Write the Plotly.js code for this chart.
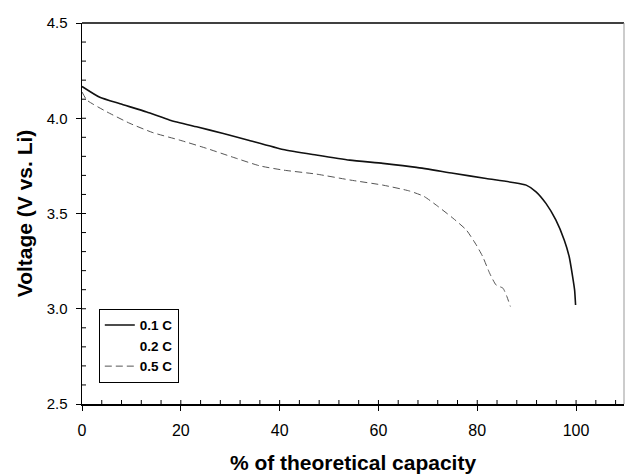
<!DOCTYPE html>
<html>
<head>
<meta charset="utf-8">
<script src="https://cdn.plot.ly/plotly-3.0.1.min.js"></script>
<style>html,body{margin:0;padding:0;background:#fff;}#chart{width:625px;height:475px;}</style>
</head>
<body>
<div id="chart"></div>
<script>
// 0.1 C discharge curve
const cap01 = [0, 3.6, 7.7, 13.1, 17.8, 23.2, 28.6, 33.5, 40.7, 47.4, 54.2, 60.9, 67.7, 75.1, 81.8, 87.2, 89.9, 91.9, 93.9, 95.9, 97.6, 98.6, 99.3, 99.7, 99.9];
const volt01 = [4.167, 4.11, 4.076, 4.033, 3.99, 3.955, 3.92, 3.886, 3.836, 3.807, 3.78, 3.763, 3.742, 3.711, 3.684, 3.663, 3.649, 3.614, 3.553, 3.466, 3.361, 3.274, 3.169, 3.099, 3.02];
// 0.2 C (no visible curve in the reference)
const cap02 = [null];
const volt02 = [null];
// 0.5 C discharge curve
const cap05 = [0, 1, 5, 9.7, 14.4, 19.8, 25.2, 30.6, 36, 40.7, 47.4, 54.2, 60.9, 66.3, 69.2, 71.7, 75.1, 77.8, 79.8, 81.1, 82.5, 83.8, 85.2, 86, 86.7];
const volt05 = [4.138, 4.095, 4.034, 3.973, 3.924, 3.885, 3.842, 3.795, 3.75, 3.728, 3.707, 3.676, 3.649, 3.618, 3.59, 3.544, 3.475, 3.413, 3.335, 3.274, 3.187, 3.125, 3.108, 3.064, 3.012];
const seriesNames = ['0.1 C', '0.2 C', '0.5 C'];

const xRange = [0, 109.7];
const yRange = [2.5, 4.5];
const xMinorStep = 4;
const yMinorStep = 0.1;

const traces = [
  {x: cap01, y: volt01, name: seriesNames[0], mode: 'lines', line: {color: '#111', width: 1.6, shape: 'spline', smoothing: 0.5}},
  {x: cap02, y: volt02, name: seriesNames[1], mode: 'lines', line: {color: 'rgba(0,0,0,0)', width: 1}},
  {x: cap05, y: volt05, name: seriesNames[2], mode: 'lines', line: {color: '#555', width: 1, dash: '7px,4px', shape: 'spline', smoothing: 0.5}}
];

// minor inside ticks, placed on the axes' own scales
const shapes = [
  {type: 'line', xref: 'paper', yref: 'paper', x0: 0, x1: 1, y0: 1, y1: 1, line: {color: '#000', width: 1.5}},
  {type: 'line', xref: 'paper', yref: 'paper', x0: 1, x1: 1, y0: 0, y1: 1, line: {color: '#999', width: 1}}
];
for (let i = 1; i * xMinorStep < xRange[1]; i++) {
  const v = i * xMinorStep;
  shapes.push({type: 'line', xref: 'x', yref: 'y', ysizemode: 'pixel', yanchor: yRange[0],
    x0: v, x1: v, y0: 0, y1: 4, line: {color: '#000', width: 1}});
}
for (let i = 1; yRange[0] + i * yMinorStep < yRange[1] - 1e-9; i++) {
  const v = +(yRange[0] + i * yMinorStep).toFixed(2);
  shapes.push({type: 'line', xref: 'x', yref: 'y', xsizemode: 'pixel', xanchor: xRange[0],
    x0: 0, x1: 4, y0: v, y1: v, line: {color: '#000', width: 1}});
}

const fam = 'Liberation Sans, Arial, sans-serif';
const layout = {
  width: 625, height: 475,
  margin: {l: 82, r: 1, t: 23, b: 71},
  paper_bgcolor: '#fff', plot_bgcolor: '#fff',
  showlegend: true,
  legend: {x: 0.031, y: 0.25, xanchor: 'left', yanchor: 'top', bordercolor: '#000', borderwidth: 1,
    font: {family: fam, size: 13.5, color: '#000', weight: 'bold'}, tracegroupgap: 0},
  xaxis: {
    range: xRange, dtick: 20,
    ticks: 'outside', ticklen: 5, tickcolor: '#000', tickwidth: 1, ticklabelstandoff: 6,
    showgrid: false, showline: true, linecolor: '#000', linewidth: 1.5, zeroline: false,
    tickfont: {family: fam, size: 16, color: '#000'},
    title: {text: '% of theoretical capacity', font: {family: fam, size: 21, color: '#000', weight: 'bold'}, standoff: 17}
  },
  yaxis: {
    range: yRange, dtick: 0.5, tickformat: '.1f',
    ticks: 'outside', ticklen: 5, tickcolor: '#000', tickwidth: 1, ticklabelstandoff: 5,
    showgrid: false, showline: true, linecolor: '#000', linewidth: 1.5, zeroline: false,
    tickfont: {family: fam, size: 15, color: '#000'},
    title: {text: 'Voltage (V vs. Li)', font: {family: fam, size: 21, color: '#000', weight: 'bold'}, standoff: 8}
  },
  shapes: shapes
};
Plotly.newPlot('chart', traces, layout, {displayModeBar: false, staticPlot: true});
</script>
</body>
</html>
